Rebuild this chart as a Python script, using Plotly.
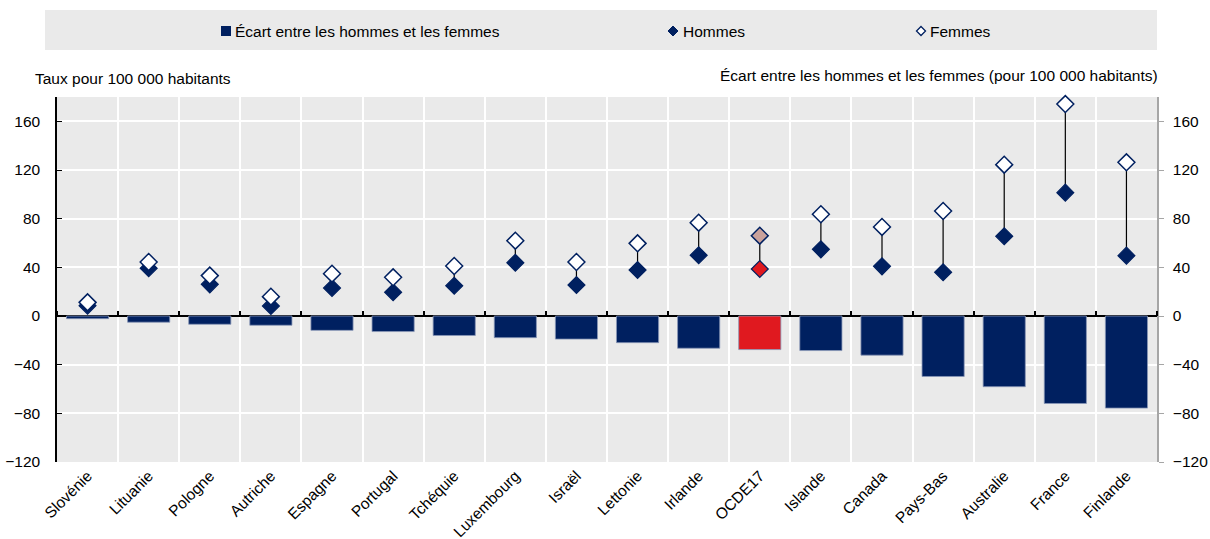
import plotly.graph_objects as go

countries = ["Slovénie", "Lituanie", "Pologne", "Autriche", "Espagne", "Portugal", "Tchéquie",
             "Luxembourg", "Israël", "Lettonie", "Irlande", "OCDE17", "Islande", "Canada",
             "Pays-Bas", "Australie", "France", "Finlande"]
hommes = [8.5, 39.2, 26.0, 8.2, 23.0, 19.5, 24.9, 43.8, 25.5, 37.8, 49.9, 38.6, 54.8, 40.8, 35.9, 65.5, 101.4, 49.6]
femmes = [11.2, 44.4, 33.2, 15.9, 34.8, 31.8, 41.1, 61.9, 44.4, 59.7, 76.7, 66.0, 83.6, 73.2, 86.3, 124.4, 174.2, 126.3]
ecart = [-2.2, -5.1, -6.8, -7.6, -11.8, -12.8, -16.0, -17.8, -19.0, -21.9, -26.5, -27.6, -28.4, -32.2, -49.7, -58.1, -71.9, -75.7]
y_ticks = [-120, -80, -40, 0, 40, 80, 120, 160]

NAVY = "#002060"
RED = "#E0191F"
TAN = "#C9A19B"
BG = "#EAEAEA"
FONT = "Liberation Sans Narrow, Arial Narrow, Liberation Sans, Arial, sans-serif"
FS = 15.5

W, H = 1210, 539
# plot area in window pixels
L, R, T, B = 57, 1157, 97, 462

def px(x):
    return (x - L) / (R - L)

def py(y):
    return (B - y) / (B - T)

bar_colors = [RED if c == "OCDE17" else NAVY for c in countries]
h_colors = [RED if c == "OCDE17" else NAVY for c in countries]
f_colors = [TAN if c == "OCDE17" else "white" for c in countries]

lx, ly = [], []
for c, h, f in zip(countries, hommes, femmes):
    lx += [c, c, None]
    ly += [h, f, None]

fig = go.Figure()
fig.add_trace(go.Bar(x=countries, y=ecart, width=0.69, marker=dict(color=bar_colors, line=dict(color="#8a98b8", width=0.8)),
                     name="Écart entre les hommes et les femmes", showlegend=False))
fig.add_trace(go.Scatter(x=lx, y=ly, mode="lines", line=dict(color="black", width=1.2), showlegend=False, hoverinfo="skip"))
fig.add_trace(go.Scatter(x=countries, y=hommes, mode="markers", name="Hommes", showlegend=False, cliponaxis=False,
                         marker=dict(symbol="diamond", size=13, color=h_colors, line=dict(color=NAVY, width=1.2))))
fig.add_trace(go.Scatter(x=countries, y=femmes, mode="markers", name="Femmes", showlegend=False, cliponaxis=False,
                         marker=dict(symbol="diamond", size=13, color=f_colors, line=dict(color=NAVY, width=1.5))))
# helper trace for zero-line ticks axis
fig.add_trace(go.Scatter(x=countries, y=[0] * len(countries), xaxis="x2", mode="markers",
                         marker=dict(opacity=0), showlegend=False, hoverinfo="skip"))
# helper trace for right axis
fig.add_trace(go.Scatter(x=countries, y=[0] * len(countries), yaxis="y2", mode="markers",
                         marker=dict(opacity=0), showlegend=False, hoverinfo="skip"))

fig.update_layout(
    width=W, height=H,
    margin=dict(l=L, r=W - R, t=T, b=H - B, autoexpand=False),
    paper_bgcolor="white", plot_bgcolor=BG,
    font=dict(family=FONT, size=FS, color="black"),
    xaxis=dict(type="category", categoryorder="array", categoryarray=countries, range=[-0.5, 17.5],
               tickson="boundaries", showgrid=True, gridcolor="white", gridwidth=2, ticks="",
               tickangle=-45, tickfont=dict(size=15.5), showline=False, zeroline=False, automargin=False,
               ticklabelshift=0, ticklabelstandoff=1),
    xaxis2=dict(type="category", categoryorder="array", categoryarray=countries, range=[-0.5, 17.5],
                overlaying="x", anchor="free", position=py(316), side="top", tickson="boundaries",
                ticks="outside", ticklen=5, tickcolor="black", tickwidth=1.5, showticklabels=False,
                showgrid=False, showline=False, zeroline=False, automargin=False),
    yaxis=dict(range=[-120, 180], tickvals=y_ticks, showgrid=True, gridcolor="white", gridwidth=2,
               zeroline=True, zerolinecolor="black", zerolinewidth=1.5, automargin=False,
               showline=True, linecolor="black", linewidth=1.5, ticks="inside", ticklen=5,
               tickcolor="black", tickwidth=1.2, ticklabelstandoff=12, tickfont=dict(size=FS)),
    yaxis2=dict(range=[-120, 180], tickvals=y_ticks, overlaying="y", side="right", showgrid=False,
                zeroline=False, showline=True, linecolor="#a6a6a6", linewidth=1.5, ticks="outside",
                ticklen=5, tickcolor="#a6a6a6", ticklabelstandoff=6, tickfont=dict(size=FS), automargin=False),
)

shapes = [
    dict(type="rect", xref="paper", yref="paper", x0=px(45), x1=px(1157), y0=py(50), y1=py(10),
         fillcolor=BG, line=dict(width=0), layer="below"),
    dict(type="rect", xref="paper", yref="paper", x0=px(221), x1=px(231), y0=py(36), y1=py(26),
         fillcolor=NAVY, line=dict(width=0)),
]

def diamond(cx, cy, r, fill, lw):
    path = (f"M {px(cx)},{py(cy - r)} L {px(cx + r)},{py(cy)} L {px(cx)},{py(cy + r)} "
            f"L {px(cx - r)},{py(cy)} Z")
    return dict(type="path", xref="paper", yref="paper", path=path, fillcolor=fill,
                line=dict(color=NAVY, width=lw))

shapes.append(diamond(673, 31, 5, NAVY, 1))
shapes.append(diamond(921, 31, 4.5, "white", 1.3))
fig.update_layout(shapes=shapes)

annotations = [
    dict(text="Écart entre les hommes et les femmes", x=px(233), y=py(31), xanchor="left", yanchor="middle"),
    dict(text="Hommes", x=px(681), y=py(31), xanchor="left", yanchor="middle"),
    dict(text="Femmes", x=px(928), y=py(31), xanchor="left", yanchor="middle"),
    dict(text="Taux pour 100 000 habitants", x=px(33), y=py(78), xanchor="left", yanchor="middle"),
    dict(text="Écart entre les hommes et les femmes (pour 100 000 habitants)", x=px(1160), y=py(76),
         xanchor="right", yanchor="middle"),
]
for a in annotations:
    a.update(xref="paper", yref="paper", showarrow=False, font=dict(size=FS, family=FONT))
fig.update_layout(annotations=annotations)

fig.write_html("out.html", config={"displayModeBar": False},
               post_script="document.body.style.margin='0';document.body.style.overflow='hidden';")
